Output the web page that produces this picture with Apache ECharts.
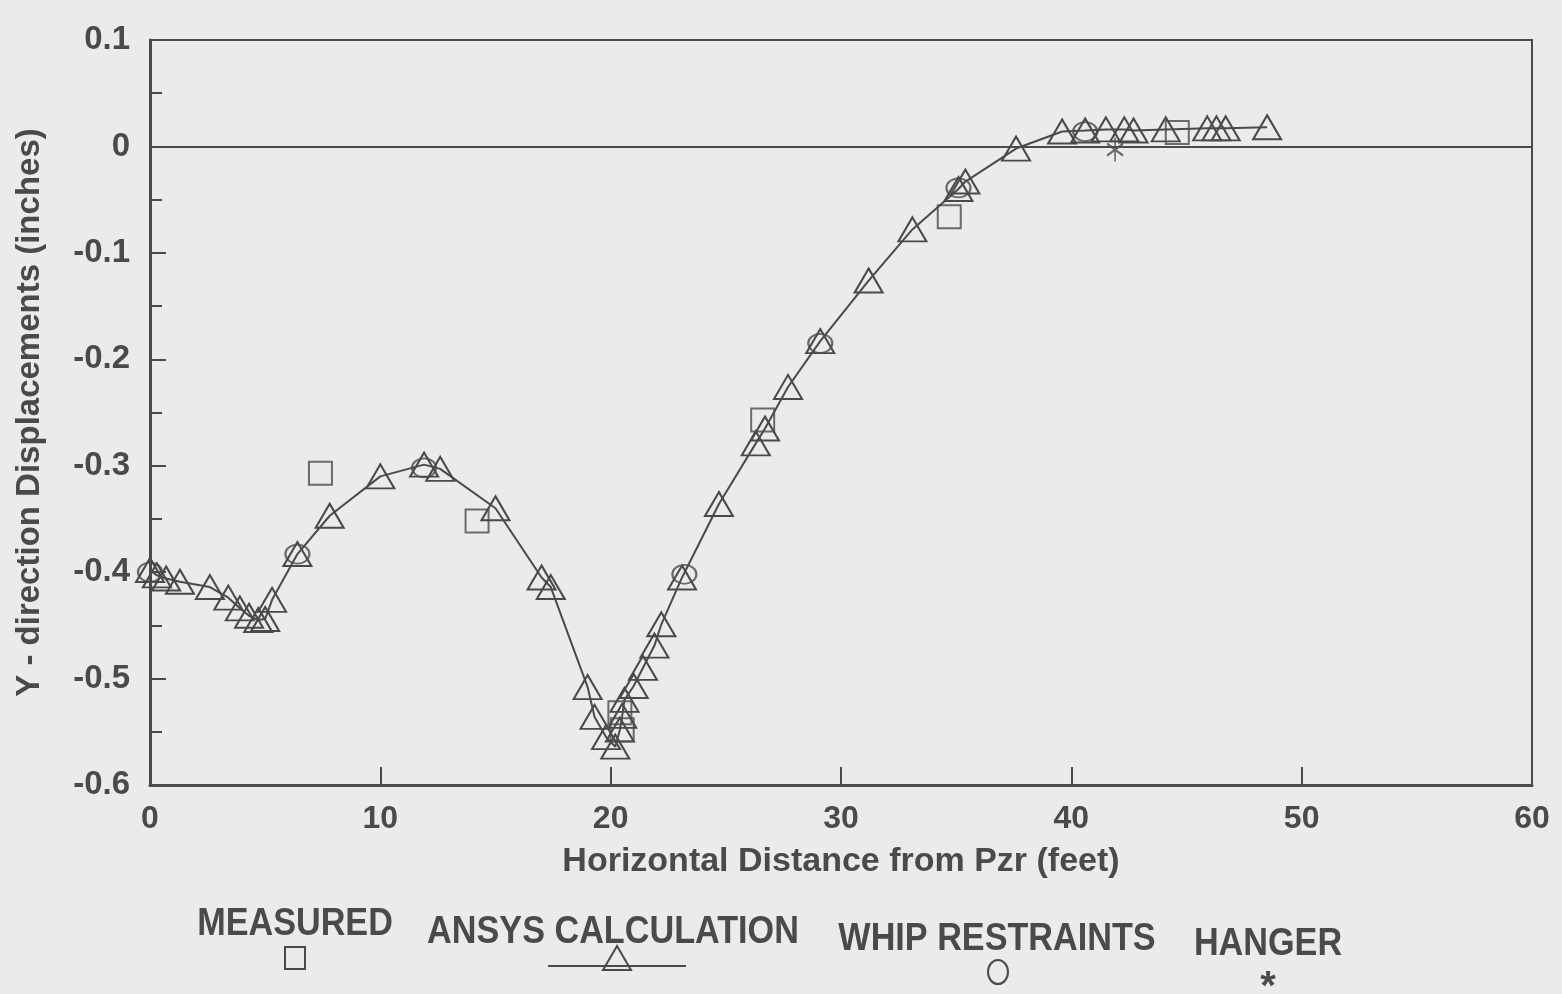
<!DOCTYPE html>
<html>
<head>
<meta charset="utf-8">
<title>Y-direction Displacements</title>
<script src="https://cdn.jsdelivr.net/npm/echarts@6/dist/echarts.min.js"></script>
<style>
  html, body { margin: 0; padding: 0; background: #ebebea; }
  #main { width: 1562px; height: 994px; }
</style>
</head>
<body>
<div id="main"></div>
<script>
// data: [feet, inches]
var ansysCalc = [
  [0, -0.398], [0.3, -0.403], [0.7, -0.406], [1.3, -0.409], [2.6, -0.414],
  [3.4, -0.424], [3.9, -0.434], [4.3, -0.441], [4.7, -0.445], [5.0, -0.444],
  [5.3, -0.426], [6.4, -0.383], [7.8, -0.347], [10.0, -0.31], [11.9, -0.299],
  [12.6, -0.303], [15.0, -0.34], [17.0, -0.405], [17.4, -0.414], [19.0, -0.508],
  [19.3, -0.536], [19.8, -0.555], [20.2, -0.564], [20.4, -0.548], [20.5, -0.535],
  [20.6, -0.52], [21.0, -0.507], [21.4, -0.49], [21.9, -0.469], [22.2, -0.449],
  [23.1, -0.405], [24.7, -0.336], [26.3, -0.279], [26.7, -0.265], [27.7, -0.226],
  [29.1, -0.183], [31.2, -0.126], [33.1, -0.078], [35.1, -0.04], [35.4, -0.033],
  [37.6, -0.002], [39.6, 0.014], [40.6, 0.015], [41.5, 0.016], [42.3, 0.016],
  [42.7, 0.015], [44.1, 0.016], [45.9, 0.017], [46.3, 0.017], [46.7, 0.017],
  [48.5, 0.018]
];
var measured = [
  [7.4, -0.307], [14.2, -0.352], [20.4, -0.532], [20.5, -0.548],
  [26.6, -0.257], [34.7, -0.066], [44.6, 0.013]
];
var whipRestraints = [
  [0, -0.40], [6.4, -0.383], [11.9, -0.302], [23.2, -0.402],
  [29.1, -0.185], [35.1, -0.039], [40.6, 0.014]
];
var hanger = [
  [41.9, -0.003]
];
var xTicks = [0, 10, 20, 30, 40, 50, 60];
var yTicks = [0.1, 0, -0.1, -0.2, -0.3, -0.4, -0.5, -0.6];

var ink = '#4a4a4a';
var fontFam = 'Liberation Sans, Arial, sans-serif';
var asterisk = 'path://M0,-10L0,10M-8.7,-5L8.7,5M-8.7,5L8.7,-5';

var chart = echarts.init(document.getElementById('main'));
chart.setOption({
  backgroundColor: '#ebebea',
  animation: false,
  grid: {
    left: 150, right: 30, top: 40, bottom: 209,
    show: true, borderColor: ink, borderWidth: 2, backgroundColor: 'transparent'
  },
  xAxis: {
    type: 'value',
    min: xTicks[0], max: xTicks[xTicks.length - 1], interval: 10,
    name: 'Horizontal Distance from Pzr (feet)',
    nameLocation: 'middle', nameGap: 60,
    nameTextStyle: { fontFamily: 'Liberation Sans Narrow, ' + fontFam, fontSize: 34, fontWeight: 'bold', color: ink },
    axisLine: { onZero: false, lineStyle: { color: ink, width: 3 } },
    axisTick: { inside: true, length: 18, lineStyle: { color: ink, width: 2 } },
    axisLabel: { fontFamily: fontFam, fontSize: 32, fontWeight: 'bold', color: ink, margin: 18 },
    splitLine: { show: false }
  },
  yAxis: {
    type: 'value',
    min: yTicks[yTicks.length - 1], max: yTicks[0], interval: 0.1,
    name: 'Y - direction Displacements (inches)',
    nameLocation: 'middle', nameGap: 104,
    nameTextStyle: { fontFamily: 'Liberation Sans Narrow, ' + fontFam, fontSize: 33, fontWeight: 'bold', color: ink },
    axisLine: { onZero: false, lineStyle: { color: ink, width: 3 } },
    axisTick: { inside: true, length: 16, lineStyle: { color: ink, width: 2 } },
    minorTick: { show: true, splitNumber: 2, length: 12, lineStyle: { color: ink, width: 2 } },
    axisLabel: {
      fontFamily: fontFam, fontSize: 33, fontWeight: 'bold', color: ink, margin: 20,
      formatter: function (v) { return String(Math.round(v * 10) / 10); }
    },
    splitLine: { show: false }
  },
  series: [
    {
      name: 'ANSYS CALCULATION',
      type: 'line',
      data: ansysCalc,
      symbol: 'triangle',
      symbolSize: [28, 24],
      lineStyle: { color: ink, width: 2 },
      itemStyle: { color: 'rgba(0,0,0,0)', borderColor: ink, borderWidth: 2 },
      markLine: {
        silent: true, symbol: 'none', label: { show: false },
        lineStyle: { color: ink, width: 2, type: 'solid' },
        data: [{ yAxis: 0 }]
      },
      z: 3
    },
    {
      name: 'MEASURED',
      type: 'scatter',
      data: measured,
      symbol: 'rect',
      symbolSize: [23, 23],
      itemStyle: { color: 'rgba(0,0,0,0)', borderColor: ink, borderWidth: 2 },
      z: 4
    },
    {
      name: 'WHIP RESTRAINTS',
      type: 'scatter',
      data: whipRestraints,
      symbol: 'circle',
      symbolSize: [24, 19],
      itemStyle: { color: 'rgba(0,0,0,0)', borderColor: ink, borderWidth: 2 },
      z: 4
    },
    {
      name: 'HANGER',
      type: 'scatter',
      data: hanger,
      symbol: asterisk,
      symbolSize: [16, 24],
      itemStyle: { color: 'none', borderColor: ink, borderWidth: 2 },
      z: 4
    }
  ],
  graphic: [
    { type: 'text', x: 295, y: 925, scaleX: 0.9, style: { text: 'MEASURED', font: 'bold 38px ' + fontFam, fill: ink, align: 'center', verticalAlign: 'middle' } },
    { type: 'text', x: 613, y: 933, scaleX: 0.9, style: { text: 'ANSYS CALCULATION', font: 'bold 38px ' + fontFam, fill: ink, align: 'center', verticalAlign: 'middle' } },
    { type: 'text', x: 997, y: 940, scaleX: 0.9, style: { text: 'WHIP RESTRAINTS', font: 'bold 38px ' + fontFam, fill: ink, align: 'center', verticalAlign: 'middle' } },
    { type: 'text', x: 1268, y: 945, scaleX: 0.9, style: { text: 'HANGER', font: 'bold 38px ' + fontFam, fill: ink, align: 'center', verticalAlign: 'middle' } },
    { type: 'rect', shape: { x: 285, y: 947, width: 20, height: 22 }, style: { fill: 'none', stroke: ink, lineWidth: 2 } },
    { type: 'line', shape: { x1: 548, y1: 966, x2: 686, y2: 966 }, style: { stroke: ink, lineWidth: 2 } },
    { type: 'polygon', shape: { points: [[617, 946], [603, 970], [631, 970]] }, style: { fill: 'none', stroke: ink, lineWidth: 2 } },
    { type: 'ellipse', shape: { cx: 998, cy: 972, rx: 10, ry: 12 }, style: { fill: 'none', stroke: ink, lineWidth: 2 } },
    { type: 'text', x: 1268, y: 988, style: { text: '*', font: 'bold 40px ' + fontFam, fill: ink, align: 'center', verticalAlign: 'middle' } }
  ]
});
</script>
</body>
</html>
